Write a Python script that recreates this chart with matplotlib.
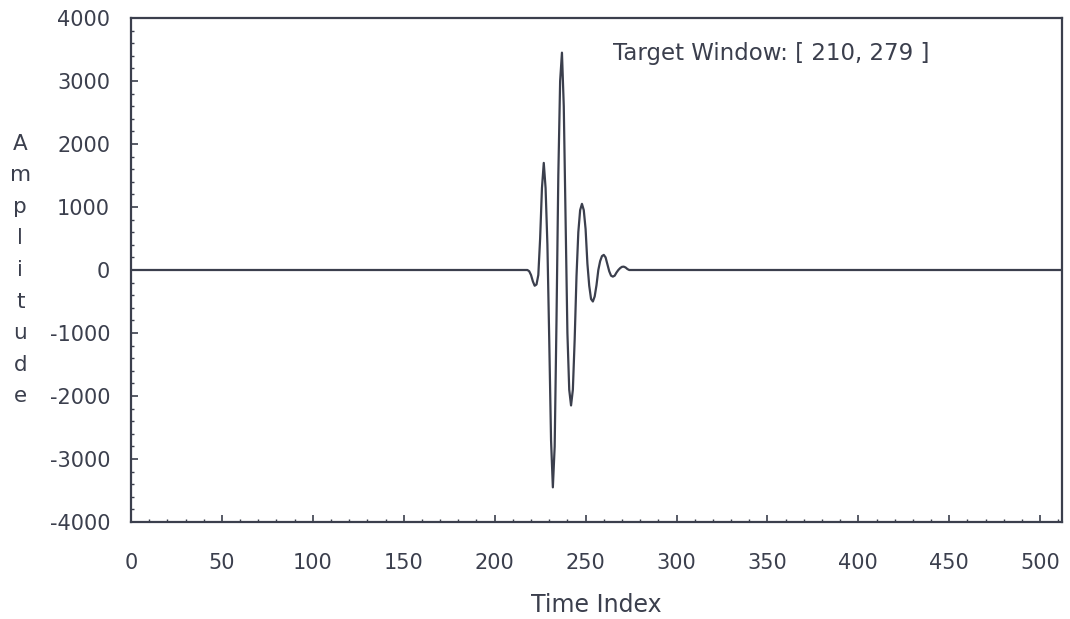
import numpy as np
import matplotlib
matplotlib.use("Agg")
import matplotlib.pyplot as plt
from matplotlib.ticker import MultipleLocator

plt.rcParams["axes.unicode_minus"] = False

# DATOS
nSamples = 512
pulseStart = 218
pulseValues = [
    0, -20, -80, -180, -250, -230, -80, 500, 1300, 1700,
    1300, 400, -1100, -2700, -3450, -2800, -800, 1500, 3000, 3450,
    2600, 800, -1000, -1900, -2150, -1900, -1100, -100, 600, 950,
    1050, 950, 650, 100, -250, -460, -500, -420, -240, 0,
    140, 220, 240, 200, 90, -20, -90, -105, -90, -40,
    0, 30, 50, 53, 40, 15, 0,
]
windowStart, windowEnd = 210, 279

timeIndex = np.arange(nSamples)
amplitude = np.zeros(nSamples)
amplitude[pulseStart:pulseStart + len(pulseValues)] = pulseValues

ink = "#3b3f4d"

# FIGURA
fig = plt.figure(figsize=(10.7, 6.19), dpi=100)
ax = fig.add_axes([131 / 1070, 1 - 522 / 619, (1062 - 131) / 1070, (522 - 18) / 619])

ax.plot(timeIndex, amplitude, color=ink, linewidth=1.6)

ax.set_xlim(0, 512)
ax.set_ylim(-4000, 4000)
ax.xaxis.set_major_locator(MultipleLocator(50))
ax.xaxis.set_minor_locator(MultipleLocator(10))
ax.yaxis.set_major_locator(MultipleLocator(1000))
ax.yaxis.set_minor_locator(MultipleLocator(200))

ax.tick_params(which="both", direction="in", color=ink, labelcolor=ink,
               labelsize=15, top=False, right=False)
ax.tick_params(axis="x", which="major", length=5, width=1.2, pad=22)
ax.tick_params(axis="y", which="major", length=5, width=1.2, pad=15)
ax.tick_params(which="minor", length=2.5, width=1.0)

for spine in ax.spines.values():
    spine.set_color(ink)
    spine.set_linewidth(1.6)

ax.set_xlabel("Time Index", fontsize=17, color=ink, labelpad=15)

# Etiqueta vertical letra por letra
ax.text(-0.119, 0.5, "\n".join("Amplitude"), transform=ax.transAxes,
        ha="center", va="center", fontsize=15.5, color=ink, linespacing=1.72)

ax.text(265, 3430, f"Target Window: [ {windowStart}, {windowEnd} ]",
        ha="left", va="center", fontsize=16.5, color=ink)

fig.savefig("out.png", dpi=100, facecolor="white")
